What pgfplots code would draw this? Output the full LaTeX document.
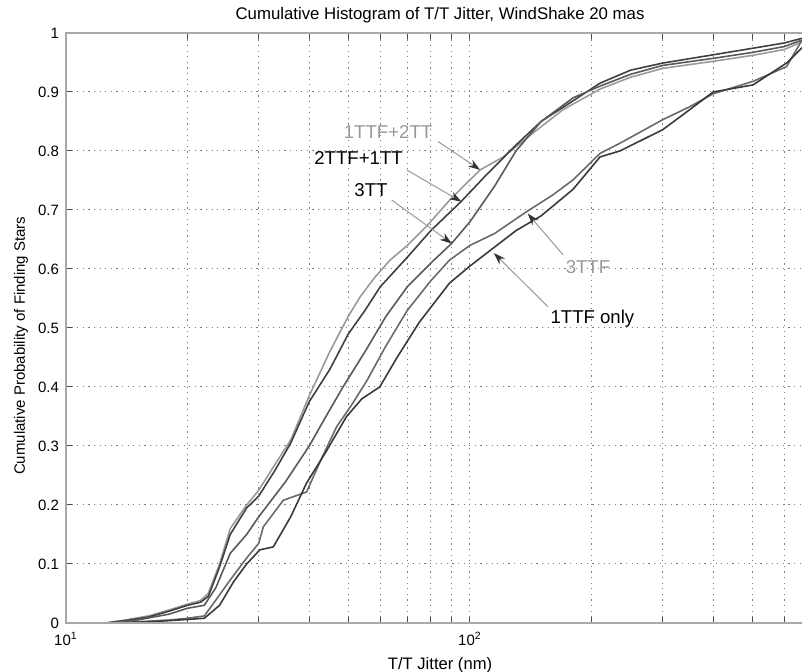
\documentclass[border=0pt]{standalone}
\usepackage{pgfplots}
\pgfplotsset{compat=1.18}
\usepackage{fontspec}
\setmainfont{Liberation Sans}
\usetikzlibrary{arrows.meta}
\definecolor{axgray}{HTML}{A8A8A8}
\definecolor{gridgray}{HTML}{7C7C7C}
\definecolor{cA}{HTML}{9A9A9A}
\definecolor{cB}{HTML}{404040}
\definecolor{cC}{HTML}{5A5A5A}
\definecolor{cD}{HTML}{6A6A6A}
\definecolor{cE}{HTML}{3A3A3A}
\begin{document}
\begin{tikzpicture}
\begin{axis}[
  at={(0,0)}, anchor=south west,
  scale only axis, width=368pt, height=295pt,
  xmode=log, xmin=10, xmax=664, ymin=0, ymax=1,
  axis line style={draw=none},
  xtick={10,100}, xticklabels={10\textsuperscript{1},10\textsuperscript{2}},
  minor xtick={20,30,40,50,60,70,80,90,200,300,400,500,600},
  ytick={0,0.1,0.2,0.3,0.4,0.5,0.6,0.7,0.8,0.9,1},
  yticklabels={0,0.1,0.2,0.3,0.4,0.5,0.6,0.7,0.8,0.9,1},
  xtick pos=both, ytick pos=left,
  tick align=inside, major tick length=3pt, minor tick length=3pt,
  tick style={black!70, line width=0.5pt},
  xmajorgrids, xminorgrids, ymajorgrids,
  grid style={gridgray, line width=0.5pt, dash pattern=on 0.6pt off 2.2pt},
  minor grid style={gridgray, line width=0.5pt, dash pattern=on 0.6pt off 2.2pt},
  tick label style={font=\fontsize{7.5}{9}\selectfont},
  xticklabel style={yshift=-1pt},
  title={Cumulative Histogram of T/T Jitter, WindShake 20 mas},
  title style={font=\fontsize{8.4}{10}\selectfont, at={(axis description cs:0.5,1)}, anchor=center, yshift=3pt, xshift=3pt},
  xlabel={T/T Jitter (nm)},
  xlabel style={font=\fontsize{8.3}{10}\selectfont, at={(axis description cs:0.5,0)}, anchor=center, yshift=-21pt, xshift=3pt},
  ylabel={Cumulative Probability of Finding Stars},
  ylabel style={font=\fontsize{7.5}{9}\selectfont, at={(axis description cs:-0.061,0.47)}, anchor=center},
  clip=false,
]
% 1TTF+2TT
\addplot[cA, line width=0.8pt] coordinates {
(12.5,0)(14,0.005)(16,0.012)(18,0.022)(20,0.032)(21.5,0.038)(22.5,0.05)(24,0.10)(25.5,0.16)(28,0.20)(30,0.225)(33,0.27)(36,0.31)(40,0.385)(45,0.46)(50,0.52)(53.5,0.553)(58,0.585)(63.4,0.615)(70,0.64)(78,0.672)(90,0.72)(106,0.768)(121,0.79)(143,0.83)(170,0.87)(210,0.905)(250,0.925)(300,0.94)(400,0.952)(500,0.962)(600,0.972)(664,0.985)};
% 2TTF+1TT
\addplot[cB, line width=0.8pt] coordinates {
(12.5,0)(14,0.004)(16,0.01)(18,0.02)(20,0.03)(21.5,0.035)(22.5,0.045)(24,0.095)(25.5,0.15)(28,0.195)(30,0.215)(33,0.26)(36,0.305)(40,0.375)(45,0.43)(50,0.49)(55,0.53)(60,0.57)(70,0.62)(80,0.665)(95,0.714)(110,0.76)(130,0.81)(150,0.85)(180,0.885)(210,0.915)(250,0.937)(300,0.949)(400,0.963)(500,0.974)(600,0.983)(664,0.991)};
% 3TT
\addplot[cC, line width=0.8pt] coordinates {
(13,0)(15,0.005)(18,0.015)(20,0.025)(22,0.03)(23.5,0.06)(25.5,0.118)(28,0.15)(30,0.18)(35,0.24)(40,0.30)(44,0.35)(48.5,0.40)(55,0.46)(62,0.52)(70,0.57)(80,0.61)(90,0.643)(100,0.68)(115,0.74)(130,0.80)(150,0.85)(180,0.89)(210,0.91)(250,0.93)(300,0.945)(400,0.957)(500,0.967)(600,0.977)(664,0.988)};
% 3TTF
\addplot[cD, line width=0.8pt] coordinates {
(13,0)(16,0.003)(18,0.005)(20,0.008)(22,0.012)(23,0.03)(25.5,0.073)(28,0.11)(30,0.135)(30.8,0.163)(34.5,0.208)(39.4,0.222)(43,0.28)(46.8,0.333)(51,0.37)(55.5,0.41)(62,0.47)(70,0.53)(80,0.58)(89,0.615)(100,0.64)(115,0.66)(138,0.697)(160,0.725)(180,0.751)(210,0.796)(235,0.813)(300,0.853)(350,0.875)(400,0.897)(502,0.918)(608,0.943)(664,0.988)};
% 1TTF only
\addplot[cE, line width=0.8pt] coordinates {
(13,0)(16,0.002)(18,0.004)(20,0.006)(22,0.008)(24,0.03)(26,0.07)(28,0.1)(30.2,0.124)(32.6,0.129)(36,0.18)(39.4,0.237)(44,0.29)(49.5,0.35)(54,0.38)(59.8,0.40)(66,0.45)(75,0.51)(89,0.576)(100,0.605)(114,0.635)(130,0.665)(150,0.69)(180,0.735)(210,0.79)(235,0.80)(300,0.836)(350,0.87)(400,0.90)(502,0.912)(608,0.949)(664,0.975)};
% axis box (right side cropped in the reference)
\draw[axgray, line width=1.2pt] (rel axis cs:1,1) -- (rel axis cs:0,1) -- (rel axis cs:0,0) -- (rel axis cs:1,0);
% annotations
\tikzset{ann/.style={gray!80, line width=0.5pt, -{Stealth[length=6pt,width=4pt,black!80]}}}
\node[font=\fontsize{9.3}{11}\selectfont, text=gray!80] at (axis cs:62.7,0.832) {1TTF+2TT};
\draw[ann] (axis cs:83.4,0.816) -- (axis cs:106,0.768);
\node[font=\fontsize{9.3}{11}\selectfont] at (axis cs:53,0.788) {2TTF+1TT};
\draw[ann] (axis cs:69.7,0.768) -- (axis cs:95.3,0.714);
\node[font=\fontsize{9.3}{11}\selectfont] at (axis cs:56.9,0.734) {3TT};
\draw[ann] (axis cs:64,0.717) -- (axis cs:90.2,0.643);
\node[font=\fontsize{9.3}{11}\selectfont, text=gray!80] at (axis cs:196,0.604) {3TTF};
\draw[ann] (axis cs:170,0.624) -- (axis cs:139,0.694);
\node[font=\fontsize{9.3}{11}\selectfont] at (axis cs:201,0.516) {1TTF only};
\draw[ann] (axis cs:156,0.536) -- (axis cs:114.6,0.627);
\end{axis}
\pgfresetboundingbox
\path[use as bounding box] (-33pt,-24.5pt) rectangle (368pt,311.5pt);
\end{tikzpicture}
\end{document}
